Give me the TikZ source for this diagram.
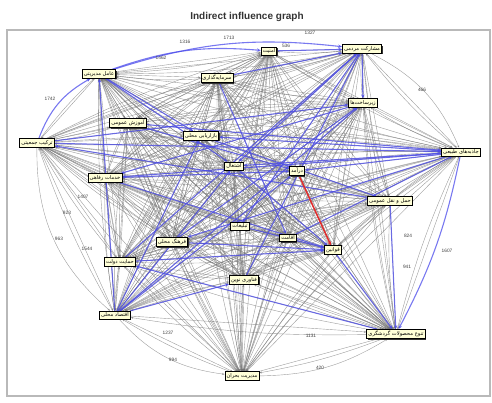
\documentclass[tikz,border=0pt]{standalone}
\usepackage{fontspec}
\setmainfont{Liberation Sans}
\newfontfamily\arabicfont[Script=Arabic]{DejaVu Sans}
\TeXXeTstate=1
\usetikzlibrary{arrows.meta,shadows,backgrounds}
\definecolor{boxfill}{RGB}{255,255,215}
\definecolor{strongblue}{RGB}{75,75,235}
\definecolor{redlink}{RGB}{225,45,45}
\tikzset{
  factor/.style={draw=black, fill=boxfill, line width=0.7pt, inner sep=1.6pt,
    font=\arabicfont\fontsize{5.2}{6}\selectfont,
    drop shadow={shadow xshift=1pt, shadow yshift=-1pt, fill=black!80, opacity=1}},
  weak/.style={draw=gray!90!black, line width=0.4pt, opacity=0.7, -{Stealth[length=2.5pt,width=2pt]}},
  strong/.style={draw=strongblue, line width=1.1pt, opacity=0.75, -{Stealth[length=4pt,width=3.5pt]}},
  hot/.style={draw=redlink, line width=1.5pt, -{Stealth[length=4pt,width=3.5pt]}},
  weight/.style={font=\fontsize{4.8}{5}\selectfont, text=black!75, inner sep=0.5pt}
}
\begin{document}
\begin{tikzpicture}[x=1pt,y=-1pt]
\useasboundingbox (0,0) rectangle (492,403);

% title and frame
\node[font=\bfseries\fontsize{10}{12}\selectfont, text=black!80] (title) at (247,17) {Indirect influence graph};

% factors
\foreach \n/\x/\y/\t in {
  A/99/74/{عامل مدیریتی}, B/217/78/{سرمایه‌گذاری}, C/269/51/{امنیت},
  D/362/49/{مشارکت مردمی}, E/363/103/{زیرساخت‌ها}, F/461/152/{جاذبه‌های طبیعی},
  G/37/143/{ترکیب جمعیتی}, H/128/123/{آموزش عمومی}, I/201/136/{بازاریابی محلی},
  J/105/178/{خدمات رفاهی}, K/234/166/{اشتغال}, L/297/171/{درآمد},
  M/390/201/{حمل و نقل عمومی}, N/172/242/{فرهنگ محلی}, O/120/262/{حمایت دولت},
  P/240/226/{تبلیغات}, Q/288/238/{اقامت}, R/333/250/{قوانین},
  S/244/280/{فناوری نوین}, T/115/315/{اقتصاد محلی}, U/242/376/{مدیریت بحران},
  V/396/334/{تنوع محصولات گردشگری}}
  \node[factor] (\n) at (\x,\y) {\beginR\t\endR};

\begin{pgfonlayer}{background}
\draw[gray!55, line width=1.3pt] (7,30) rectangle (490,396);

% weak links in both directions
\foreach \a [count=\i] in {A,...,V}{
  \foreach \b [count=\j] in {A,...,V}{
    \ifnum\j>\i
      \draw[weak] (\a) -- (\b);
      \draw[weak] (\b) to[bend left=5] (\a);
    \fi
  }
}
\draw[weak] (G) to[bend right=25] (T);
\draw[weak] (T) to[bend right=20] (U);
\draw[weak] (U) to[bend right=15] (V);
\draw[weak] (D) to[bend left=20] (F);

% strong links
\draw[strong] (A) to[bend left=12] (C);
\draw[strong] (A) to[bend left=12] (D);
\draw[strong] (G) to[bend left=20] (A);
\draw[strong] (F) to[bend left=8] (V);
\foreach \a/\b in {A/I, T/A, A/K, T/I, T/K, T/E, T/L, B/D, C/D, D/K, D/P, D/E,
  F/L, F/J, F/N, F/I, F/K, N/R, O/R, J/R, P/R, R/V, M/V, G/E, G/F, O/D,
  N/E, S/D, Q/F, M/G, H/L, I/M, T/S, E/J, V/O, H/F, J/L, K/R, B/Q}
  \draw[strong] (\a) -- (\b);

% strongest link
\draw[hot] (L) -- (R);
\end{pgfonlayer}

% link values
\foreach \n/\x/\y/\v in {w1/185/42/1316, w2/229/38/1713, w3/310/33/1327,
  w4/161/58/1462, w5/50/99/1742, w6/286/46/536, w7/422/90/466,
  w8/447/251/1607, w9/408/236/824, w10/407/267/941, w11/320/368/420,
  w12/311/336/1131, w13/173/360/994, w14/168/333/1237, w15/87/249/1544,
  w16/59/239/963, w17/67/213/923, w18/83/197/1407}
  \node[weight] (\n) at (\x,\y) {\v};
\end{tikzpicture}
\end{document}
